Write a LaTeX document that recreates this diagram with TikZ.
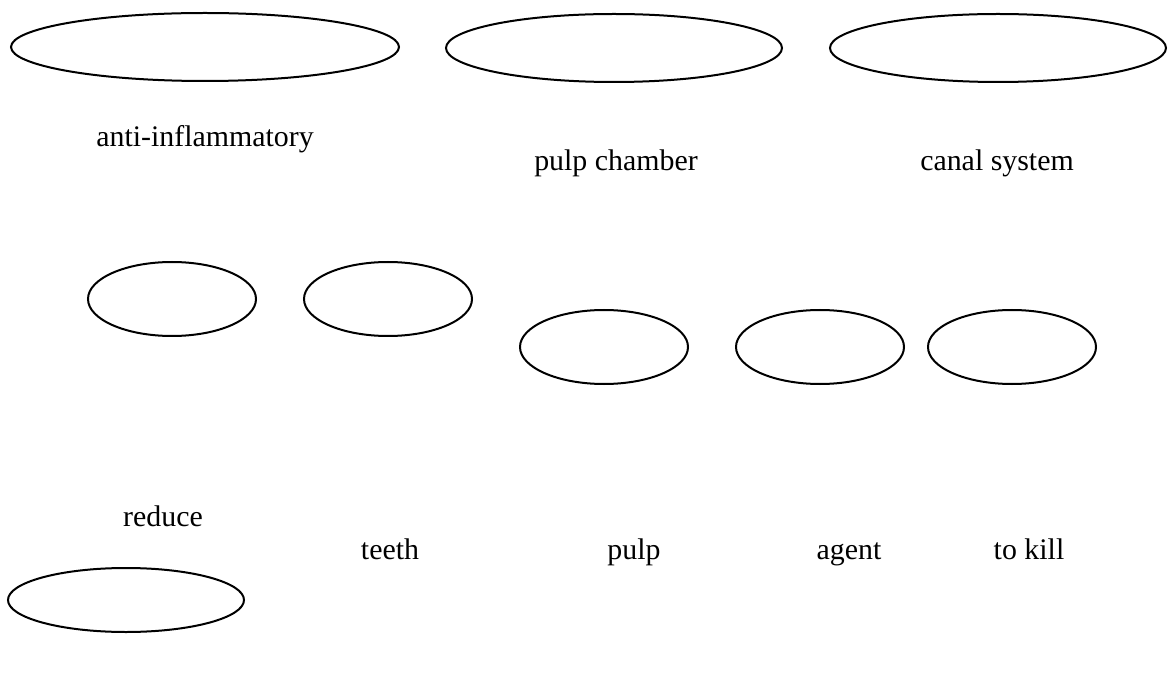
\documentclass[tikz,border=0pt]{standalone}
\usepackage{fontspec}
\setmainfont{Liberation Serif}
\usetikzlibrary{shapes.geometric}

\tikzset{
    oval/.style={draw, ellipse, line width=0.04cm, inner sep=0pt},
    word/.style={anchor=base, inner sep=0pt, font=\fontsize{17}{20}\selectfont}
}

\begin{document}
\begin{tikzpicture}
    \useasboundingbox (0, 0) rectangle (23.5, -13.72);

    \node[oval, minimum width=7.76cm, minimum height=1.36cm] (O1) at (4.1, -0.94) {};
    \node[oval, minimum width=6.72cm, minimum height=1.36cm] (O2) at (12.28, -0.96) {};
    \node[oval, minimum width=6.72cm, minimum height=1.36cm] (O3) at (19.96, -0.96) {};
    \node[oval, minimum width=3.36cm, minimum height=1.48cm] (O4) at (3.44, -5.98) {};
    \node[oval, minimum width=3.36cm, minimum height=1.48cm] (O5) at (7.76, -5.98) {};
    \node[oval, minimum width=3.36cm, minimum height=1.48cm] (O6) at (12.08, -6.94) {};
    \node[oval, minimum width=3.36cm, minimum height=1.48cm] (O7) at (16.4, -6.94) {};
    \node[oval, minimum width=3.36cm, minimum height=1.48cm] (O8) at (20.24, -6.94) {};
    \node[oval, minimum width=4.72cm, minimum height=1.28cm] (O9) at (2.52, -12.0) {};

    \node[word] (antiinf) at (4.1, -2.94) {anti-inflammatory};
    \node[word] (chamber) at (12.32, -3.42) {pulp chamber};
    \node[word] (canal) at (19.94, -3.42) {canal system};
    \node[word] (reduce) at (3.26, -10.52) {reduce};
    \node[word] (teeth) at (7.8, -11.18) {teeth};
    \node[word] (pulp) at (12.68, -11.18) {pulp};
    \node[word] (agent) at (16.98, -11.18) {agent};
    \node[word] (kill) at (20.58, -11.18) {to kill};
\end{tikzpicture}
\end{document}
